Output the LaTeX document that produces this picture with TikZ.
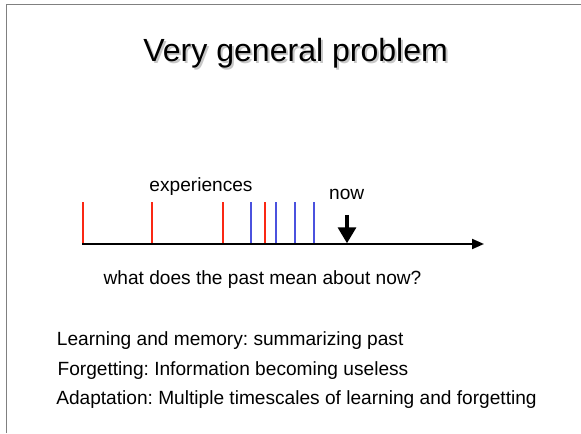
\documentclass[tikz,border=0pt]{standalone}
\usepackage{fontspec}
\setmainfont{Liberation Sans}
\usetikzlibrary{arrows.meta}
\frenchspacing
\definecolor{evred}{RGB}{250,40,20}
\definecolor{evblue}{RGB}{75,82,222}
\definecolor{framegray}{RGB}{128,128,128}
\tikzset{
  txt/.style={inner sep=0pt, font=\fontsize{13.6}{16}\selectfont},
  titletxt/.style={inner sep=0pt, anchor=base west, font=\fontsize{22.8}{26}\selectfont},
  tick/.style={line width=1.4pt},
}
\begin{document}
\begin{tikzpicture}
\useasboundingbox (0,0) rectangle (14.525,10.825);
% slide frame
\draw[draw=framegray, line width=1.4pt] (0.1625,0) -- (0.1625,10.7125) -- (14.525,10.7125);
% title with shadow
\node[titletxt, text=black!22] at(3.625, 9.225) {Very general problem};
\node[titletxt] (title) at(3.575, 9.275) {Very general problem};
% time axis
\coordinate (past) at(2.05, 4.725);
\coordinate (future) at(12.1, 4.725);
\foreach \x in {2.075, 3.8, 5.575, 6.625}
  \draw[tick, draw=evred] (\x, 4.725) -- (\x, 5.775);
\foreach \x in {6.265, 6.89, 7.375, 7.855}
  \draw[tick, draw=evblue] (\x, 4.725) -- (\x, 5.775);
\draw[line width=1.4pt, -{Triangle[length=0.3cm, width=0.25cm]}] (past) -- (future);
\node[txt, anchor=base] (exp) at(5.025, 6.04) {experiences};
\node[txt, anchor=base] (now) at(8.667, 5.84) {now};
\coordinate (nowtop) at(8.675, 5.45);
\coordinate (nowbase) at(8.675, 4.74);
\draw[line width=3pt, -{Triangle[length=0.4cm, width=0.44cm]}] (nowtop) -- (nowbase);
\node[txt, anchor=base west] (question) at(2.583, 3.7) {what does the past mean about now?};
% summary lines
\node[txt, anchor=base west] (learn) at(1.417, 2.182) {Learning and memory: summarizing past};
\node[txt, anchor=base west] (forget) at(1.433, 1.45) {Forgetting: Information becoming useless};
\node[txt, anchor=base west] (adapt) at(1.4, 0.725) {Adaptation: Multiple timescales of learning and forgetting};
\end{tikzpicture}
\end{document}
